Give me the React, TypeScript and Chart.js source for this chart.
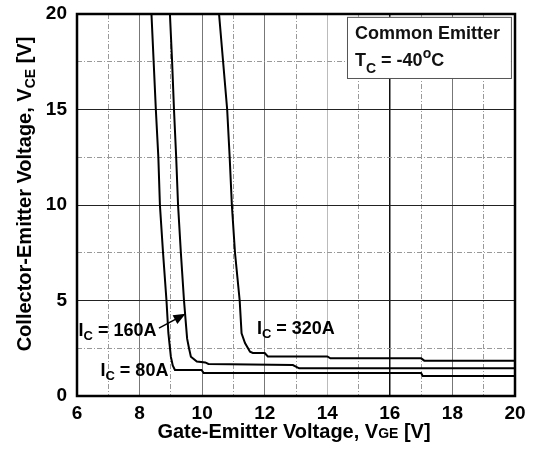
import React, { useEffect, useRef } from "react";
import { Chart, registerables } from "chart.js";

Chart.register(...registerables);

// Data (VGE [V], VCE [V])
const x80 = [8.38, 8.45, 8.52, 8.6, 8.65, 8.75, 8.86, 8.92, 9.0, 9.06, 9.13, 9.5, 9.98, 10.05, 17.0, 17.05, 20];
const y80 = [20, 17.5, 15, 12.5, 10, 7.5, 5, 3.3, 2.06, 1.6, 1.36, 1.36, 1.36, 1.2, 1.2, 1.05, 1.05];

const x160 = [8.97, 9.04, 9.1, 9.17, 9.23, 9.32, 9.42, 9.47, 9.52, 9.58, 9.64, 9.83, 10.1, 10.2, 12.9, 13.1, 20];
const y160 = [20, 17.5, 15, 12.5, 10, 7.5, 5, 4, 3, 2.5, 2.06, 1.8, 1.76, 1.68, 1.62, 1.45, 1.45];

const x320 = [10.54, 10.67, 10.8, 10.88, 10.95, 11.05, 11.2, 11.26, 11.37, 11.53, 11.62, 12.0, 12.1, 14.0, 14.1, 17.0, 17.1, 20];
const y320 = [20, 17.5, 15, 12.5, 10, 7.5, 5, 3.28, 2.77, 2.32, 2.25, 2.25, 2.07, 2.07, 1.97, 1.97, 1.85, 1.85];

const xTickLabels = [6, 8, 10, 12, 14, 16, 18, 20];
const yTickLabels = [0, 5, 10, 15, 20];

const seriesLabels = [
  { main: "I", sub: "C", rest: " = 80A", x: 6.75, y: 1.36 },
  { main: "I", sub: "C", rest: " = 160A", x: 6.05, y: 3.45 },
  { main: "I", sub: "C", rest: " = 320A", x: 11.75, y: 3.55 },
];
const arrowFrom = { x: 8.62, y: 3.55 };
const arrowTo = { x: 9.47, y: 4.3 };

const FONT = "'Liberation Sans', Arial, sans-serif";

type Part = { t: string; s?: number; dy?: number };

function drawRich(ctx: CanvasRenderingContext2D, parts: Part[], x: number, y: number, size: number, align: "left" | "center") {
  let total = 0;
  for (const p of parts) {
    ctx.font = `bold ${Math.round(size * (p.s ?? 1))}px ${FONT}`;
    total += ctx.measureText(p.t).width;
  }
  let cx = align === "center" ? x - total / 2 : x;
  ctx.textAlign = "left";
  ctx.textBaseline = "alphabetic";
  for (const p of parts) {
    ctx.font = `bold ${Math.round(size * (p.s ?? 1))}px ${FONT}`;
    ctx.fillText(p.t, cx, y + (p.dy ?? 0));
    cx += ctx.measureText(p.t).width;
  }
}

const decorPlugin = {
  id: "decor",
  afterDatasetsDraw(chart: any) {
    const { ctx, chartArea: a, scales } = chart;
    const xs = scales.x;
    const ys = scales.y;
    ctx.save();
    ctx.fillStyle = "#000";
    // series labels
    for (const l of seriesLabels) {
      const px = xs.getPixelForValue(l.x);
      const py = ys.getPixelForValue(l.y) + 6;
      drawRich(ctx, [{ t: l.main }, { t: l.sub, s: 0.72, dy: 4 }, { t: l.rest }], px, py, 18, "left");
    }
    // arrow
    const ax0 = xs.getPixelForValue(arrowFrom.x);
    const ay0 = ys.getPixelForValue(arrowFrom.y);
    const ax1 = xs.getPixelForValue(arrowTo.x);
    const ay1 = ys.getPixelForValue(arrowTo.y);
    const ang = Math.atan2(ay1 - ay0, ax1 - ax0);
    const hl = 12;
    const hw = 5;
    ctx.strokeStyle = "#000";
    ctx.lineWidth = 1.5;
    ctx.beginPath();
    ctx.moveTo(ax0, ay0);
    ctx.lineTo(ax1 - (hl - 2) * Math.cos(ang), ay1 - (hl - 2) * Math.sin(ang));
    ctx.stroke();
    ctx.beginPath();
    ctx.moveTo(ax1, ay1);
    ctx.lineTo(ax1 - hl * Math.cos(ang) + hw * Math.sin(ang), ay1 - hl * Math.sin(ang) - hw * Math.cos(ang));
    ctx.lineTo(ax1 - hl * Math.cos(ang) - hw * Math.sin(ang), ay1 - hl * Math.sin(ang) + hw * Math.cos(ang));
    ctx.closePath();
    ctx.fill();

    // legend box
    const bx0 = xs.getPixelForValue(14.63);
    const bx1 = xs.getPixelForValue(19.87);
    const by0 = ys.getPixelForValue(19.85);
    const by1 = ys.getPixelForValue(16.65);
    ctx.fillStyle = "#fff";
    ctx.fillRect(bx0, by0, bx1 - bx0, by1 - by0);
    ctx.strokeStyle = "#555";
    ctx.lineWidth = 1;
    ctx.strokeRect(bx0 + 0.5, by0 + 0.5, bx1 - bx0, by1 - by0);
    ctx.fillStyle = "#111";
    drawRich(ctx, [{ t: "Common Emitter" }], bx0 + 8, by0 + 22, 18, "left");
    drawRich(ctx, [{ t: "T" }, { t: "C", s: 0.8, dy: 7 }, { t: " = -40" }, { t: "o", s: 0.75, dy: -8 }, { t: "C" }], bx0 + 8, by0 + 49, 18, "left");

    // frame
    ctx.strokeStyle = "#000";
    ctx.lineWidth = 2.5;
    ctx.strokeRect(a.left, a.top, a.right - a.left, a.bottom - a.top);

    // axis titles
    ctx.fillStyle = "#000";
    drawRich(ctx, [{ t: "Gate-Emitter Voltage, V" }, { t: "GE", s: 0.68 }, { t: " [V]" }], 294, 438, 20, "center");
    ctx.translate(31, 194);
    ctx.rotate(-Math.PI / 2);
    drawRich(ctx, [{ t: "Collector-Emitter Voltage, V" }, { t: "CE", s: 0.68, dy: 4 }, { t: " [V]" }], 0, 0, 20, "center");
    ctx.restore();
  },
};

export default function App() {
  const ref = useRef<HTMLCanvasElement | null>(null);
  useEffect(() => {
    if (!ref.current) return;
    const mk = (xs: number[], ys: number[], label: string) => ({
      label,
      data: xs.map((x, i) => ({ x, y: ys[i] })),
      showLine: true,
      borderColor: "#000",
      borderWidth: 2,
      pointRadius: 0,
      tension: 0,
      fill: false,
    });
    const tickFont = { family: FONT, size: 19, weight: "bold" as const };
    const chart = new Chart(ref.current, {
      type: "scatter",
      data: {
        datasets: [mk(x80, y80, "IC = 80A"), mk(x160, y160, "IC = 160A"), mk(x320, y320, "IC = 320A")],
      },
      options: {
        animation: false,
        responsive: false,
        layout: { padding: { left: 0, right: 18, top: 14, bottom: 0 } },
        plugins: { legend: { display: false }, tooltip: { enabled: false } },
        scales: {
          x: {
            type: "linear",
            min: 6,
            max: 20,
            afterFit: (s: any) => {
              s.height = 53;
              s.paddingLeft = 0;
              s.paddingRight = 0;
            },
            ticks: {
              stepSize: 1,
              autoSkip: false,
              maxRotation: 0,
              padding: 6,
              color: "#000",
              font: tickFont,
              callback: (v: any) => (xTickLabels.includes(Number(v)) ? String(v) : ""),
            },
            grid: {
              drawTicks: false,
              color: (c: any) => {
                const v = c.tick?.value;
                if (v === 16) return "#111";
                if (v === 14) return "#bbb";
                if (v % 2 === 0) return "#777";
                return "#999";
              },
              lineWidth: (c: any) => (c.tick?.value === 16 ? 1.5 : 1),
            },
            border: {
              display: false,
              dash: (c: any) => (c.tick && c.tick.value % 2 !== 0 ? [5, 2, 1, 2] : []),
            } as any,
          },
          y: {
            type: "linear",
            min: 0,
            max: 20,
            afterFit: (s: any) => {
              s.width = 77;
              s.paddingTop = 0;
              s.paddingBottom = 0;
            },
            ticks: {
              stepSize: 2.5,
              autoSkip: false,
              padding: 10,
              color: "#000",
              font: tickFont,
              callback: (v: any) => (yTickLabels.includes(Number(v)) ? String(v) : ""),
            },
            grid: {
              drawTicks: false,
              color: (c: any) => (c.tick && c.tick.value % 5 === 0 ? "#222" : "#999"),
              lineWidth: 1,
            },
            border: {
              display: false,
              dash: (c: any) => (c.tick && c.tick.value % 5 !== 0 ? [5, 2, 1, 2] : []),
            } as any,
          },
        },
      },
      plugins: [decorPlugin],
    });
    return () => chart.destroy();
  }, []);
  return (
    <div style={{ position: "absolute", left: 0, top: 0, width: 533, height: 449, background: "#fff" }}>
      <canvas ref={ref} width={533} height={449} style={{ display: "block" }} />
    </div>
  );
}
